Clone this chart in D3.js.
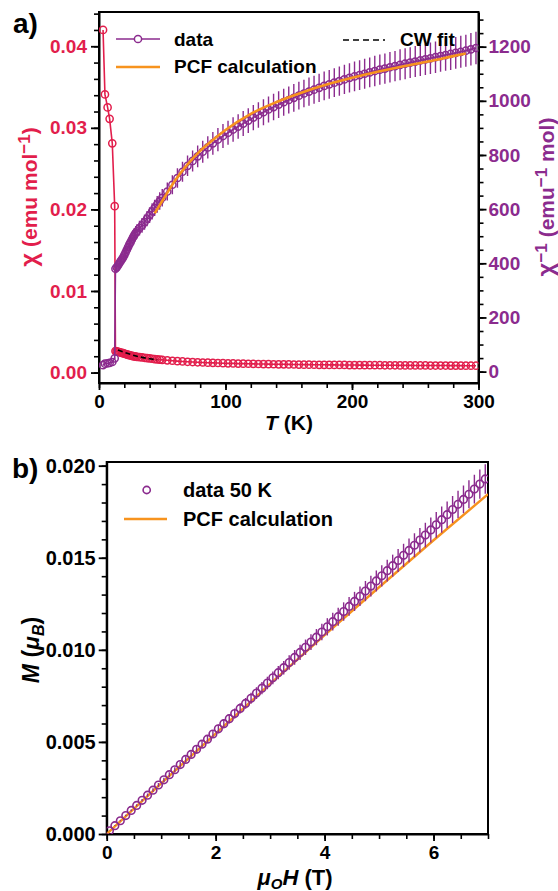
<!DOCTYPE html>
<html><head><meta charset="utf-8">
<script src="https://cdn.jsdelivr.net/npm/d3@7/dist/d3.min.js"></script>
<style>
body{margin:0;background:#fff}
svg{display:block;font-family:"Liberation Sans",Arial,sans-serif;font-weight:bold}
</style>
</head><body>
<svg id="c" width="558" height="891"></svg>
<script>
// ---------- Panel a) data ----------
const T_K = [3.2,4.7,6.8,8.4,10.5,12.4,13,14,15,16,17,18,19,20,21,22,23,24,25,26,27,28,29,30,32,34,36,38,40,42,44,46,48,50,54,58,62,66,70,74,78,82,86,90,94,98,102,106,110,114,118,122,126,130,134,138,142,146,150,154,158,162,166,170,174,178,182,186,190,194,198,202,206,210,214,218,222,226,230,234,238,242,246,250,254,258,262,266,270,274,278,282,286,290,294,298];
const chi = [0.0420,0.0341,0.0325,0.0311,0.0281,0.0204,0.00263,0.00260,0.00255,0.00250,0.00246,0.00242,0.00238,0.00233,0.00227,0.00222,0.00217,0.00213,0.00209,0.00205,0.00201,0.00198,0.00195,0.00193,0.00189,0.00185,0.00181,0.00177,0.00173,0.00169,0.00165,0.00162,0.00159,0.00156,0.00150,0.00145,0.00140,0.00136,0.00132,0.00129,0.00126,0.00123,0.00121,0.00119,0.00117,0.00115,0.00113,0.00112,0.00110,0.00109,0.00108,0.00107,0.00105,0.00104,0.00103,0.00102,0.00101,0.00101,0.00100,0.00099,0.00098,0.00097,0.00097,0.00096,0.00095,0.00095,0.00094,0.00094,0.00093,0.00093,0.00092,0.00092,0.00091,0.00091,0.00090,0.00090,0.00090,0.00089,0.00089,0.00089,0.00088,0.00088,0.00088,0.00087,0.00087,0.00087,0.00086,0.00086,0.00086,0.00086,0.00085,0.00085,0.00085,0.00084,0.00084,0.00084];
const invChi = [23.8,29.3,30.8,32.2,35.6,49.0,380,385,392,400,407,414,421,430,440,450,460,470,478,488,497,505,512,518,530,540,552,565,578,592,605,618,630,642,665,690,715,738,760,778,795,812,828,843,857,870,882,894,905,916,927,938,948,958,968,977,986,995,1003,1011,1019,1027,1034,1041,1048,1055,1061,1067,1073,1079,1085,1090,1095,1100,1105,1110,1115,1119,1124,1128,1133,1137,1141,1145,1149,1153,1157,1161,1165,1169,1173,1177,1181,1185,1190,1195];
const invChiErr = [1.2,1.5,1.5,1.6,1.8,2.5,19,19,20,20,20,21,21,22,22,23,23,24,24,24,25,25,26,26,27,27,28,28,29,30,30,31,32,32,33,35,36,37,38,39,40,41,41,42,43,44,44,45,45,46,46,47,47,48,48,49,49,50,50,51,51,51,52,52,52,53,53,53,54,54,54,55,55,55,55,56,56,56,56,56,57,57,57,57,57,58,58,58,58,58,59,59,59,59,60,60];
const pcfT = [44,50,60,70,80,90,100,120,140,160,180,200,220,240,260,280,290];
const pcfInv = [585,630,705,765,815,855,892,952,995,1030,1060,1085,1107,1127,1145,1165,1175];
const cwT = [15,20,25,30,35,40,46];
const cwChi = [0.00277,0.00248,0.00222,0.00200,0.00183,0.00169,0.00157];
const aXTicks = [0,100,200,300];
const aYLTicks = [0,0.01,0.02,0.03,0.04];
const aYRTicks = [0,200,400,600,800,1000,1200];

// ---------- Panel b) data ----------
const fieldT = [0.05,0.15,0.25,0.35,0.45,0.55,0.65,0.75,0.85,0.95,1.05,1.15,1.25,1.35,1.45,1.55,1.65,1.75,1.85,1.95,2.05,2.15,2.25,2.35,2.45,2.55,2.65,2.75,2.85,2.95,3.05,3.15,3.25,3.35,3.45,3.55,3.65,3.75,3.85,3.95,4.05,4.15,4.25,4.35,4.45,4.55,4.65,4.75,4.85,4.95,5.05,5.15,5.25,5.35,5.45,5.55,5.65,5.75,5.85,5.95,6.05,6.15,6.25,6.35,6.45,6.55,6.65,6.75,6.85,6.95];
const magM = [0.00017,0.00045,0.00072,0.00100,0.00128,0.00155,0.00183,0.00211,0.00238,0.00266,0.00294,0.00322,0.00349,0.00377,0.00405,0.00432,0.00460,0.00488,0.00515,0.00543,0.00571,0.00599,0.00626,0.00654,0.00682,0.00709,0.00737,0.00765,0.00792,0.00820,0.00848,0.00876,0.00903,0.00931,0.00959,0.00986,0.01014,0.01042,0.01069,0.01097,0.01125,0.01153,0.01180,0.01208,0.01236,0.01263,0.01291,0.01319,0.01346,0.01374,0.01402,0.01430,0.01457,0.01485,0.01513,0.01540,0.01568,0.01596,0.01623,0.01651,0.01679,0.01707,0.01734,0.01762,0.01790,0.01817,0.01845,0.01873,0.01900,0.01928];
const magErr = [0.00001,0.00002,0.00003,0.00004,0.00005,0.00006,0.00007,0.00009,0.00010,0.00011,0.00012,0.00013,0.00014,0.00016,0.00017,0.00018,0.00019,0.00020,0.00021,0.00022,0.00024,0.00025,0.00026,0.00027,0.00028,0.00029,0.00030,0.00032,0.00033,0.00034,0.00035,0.00036,0.00037,0.00039,0.00040,0.00041,0.00042,0.00043,0.00044,0.00045,0.00047,0.00048,0.00049,0.00050,0.00051,0.00052,0.00053,0.00055,0.00056,0.00057,0.00058,0.00059,0.00060,0.00062,0.00063,0.00064,0.00065,0.00066,0.00067,0.00068,0.00070,0.00071,0.00072,0.00073,0.00074,0.00075,0.00076,0.00078,0.00079,0.00080];
const pcfH = [0,1,2,3,4,5,6,7];
const pcfM = [0,0.00275,0.00545,0.00815,0.01080,0.01340,0.01595,0.01845];
const bXTicks = [0,2,4,6];
const bYTicks = [0,0.005,0.010,0.015,0.020];

// ---------- styles ----------
const RED = "#e21e4c", PURPLE = "#8b2b8e", ORANGE = "#f7931e";
const svg = d3.select("#c");

function styleAxis(g, color, fs){
  g.attr("font-family", null).attr("font-size", null);
  g.select(".domain").attr("stroke", "#000").attr("stroke-width", 2);
  g.selectAll(".tick line").attr("stroke", "#000").attr("stroke-width", 1.8);
  g.selectAll(".tick text").attr("fill", color).style("font-size", fs + "px").style("font-weight", "bold");
}
function minor(g){ g.select(".domain").remove(); g.selectAll(".tick line").attr("stroke","#000").attr("stroke-width",1.6); }

// ================= Panel a =================
const ax = {l:99, r:478.5, t:12, b:383};
const x1 = d3.scaleLinear([0,300],[ax.l, ax.r]);
const yL = d3.scaleLinear([-0.00128,0.0442],[ax.b, ax.t]);
const yR = d3.scaleLinear([-42,1328],[ax.b, ax.t]);

svg.append("defs").append("clipPath").attr("id","clipA").append("rect")
  .attr("x",ax.l).attr("y",ax.t).attr("width",ax.r-ax.l).attr("height",ax.b-ax.t);
svg.select("defs").append("clipPath").attr("id","clipB").append("rect")
  .attr("x",106.7).attr("y",462).attr("width",488-106.7).attr("height",834-462);

svg.append("rect").attr("x",ax.l).attr("y",ax.t).attr("width",ax.r-ax.l).attr("height",ax.b-ax.t)
  .attr("fill","none").attr("stroke","#000").attr("stroke-width",2);

svg.append("g").attr("transform",`translate(0,${ax.b})`)
  .call(d3.axisBottom(x1).tickValues(d3.range(0,301,20)).tickSize(5).tickFormat("")).call(minor);
svg.append("g").attr("transform",`translate(${ax.l},0)`)
  .call(d3.axisLeft(yL).tickValues(d3.range(0,0.0441,0.002)).tickSize(5).tickFormat("")).call(minor);
svg.append("g").attr("transform",`translate(${ax.r},0)`)
  .call(d3.axisRight(yR).tickValues(d3.range(0,1301,50)).tickSize(5).tickFormat("")).call(minor);
svg.append("g").attr("transform",`translate(0,${ax.b})`)
  .call(d3.axisBottom(x1).tickValues(aXTicks).tickSize(7).tickSizeOuter(0).tickPadding(5).tickFormat(d3.format("d")))
  .call(g=>styleAxis(g,"#000",19));
svg.append("g").attr("transform",`translate(${ax.l},0)`)
  .call(d3.axisLeft(yL).tickValues(aYLTicks).tickSize(8).tickSizeOuter(0).tickPadding(4).tickFormat(d3.format(".2f")))
  .call(g=>styleAxis(g,RED,19));
svg.append("g").attr("transform",`translate(${ax.r},0)`)
  .call(d3.axisRight(yR).tickValues(aYRTicks).tickSize(8).tickSizeOuter(0).tickPadding(2).tickFormat(d3.format("d")))
  .call(g=>styleAxis(g,PURPLE,19));

const pa = svg.append("g").attr("clip-path","url(#clipA)");
const idx = d3.range(T_K.length);
pa.append("path").attr("d", d3.line().x(i=>x1(T_K[i])).y(i=>yL(chi[i]))(idx))
  .attr("fill","none").attr("stroke",RED).attr("stroke-width",1.6);
pa.selectAll("circle.r").data(idx).join("circle").attr("class","r")
  .attr("cx",i=>x1(T_K[i])).attr("cy",i=>yL(chi[i])).attr("r",3.6)
  .attr("fill","none").attr("stroke",RED).attr("stroke-width",1.5);
pa.selectAll("line.e").data(idx).join("line").attr("class","e")
  .attr("x1",i=>x1(T_K[i])).attr("x2",i=>x1(T_K[i]))
  .attr("y1",i=>yR(invChi[i]-invChiErr[i])).attr("y2",i=>yR(invChi[i]+invChiErr[i]))
  .attr("stroke",PURPLE).attr("stroke-width",1.4);
pa.append("path").attr("d", d3.line().x(i=>x1(T_K[i])).y(i=>yR(invChi[i]))(idx))
  .attr("fill","none").attr("stroke",PURPLE).attr("stroke-width",1.6);
pa.selectAll("circle.p").data(idx).join("circle").attr("class","p")
  .attr("cx",i=>x1(T_K[i])).attr("cy",i=>yR(invChi[i])).attr("r",3.6)
  .attr("fill","none").attr("stroke",PURPLE).attr("stroke-width",1.5);
pa.append("path").attr("d", d3.line().curve(d3.curveMonotoneX).x((d,i)=>x1(pcfT[i])).y((d,i)=>yR(pcfInv[i]))(pcfT))
  .attr("fill","none").attr("stroke",ORANGE).attr("stroke-width",2.6);
pa.append("path").attr("d", d3.line().curve(d3.curveMonotoneX).x((d,i)=>x1(cwT[i])).y((d,i)=>yL(cwChi[i]))(cwT))
  .attr("fill","none").attr("stroke","#000").attr("stroke-width",1.6).attr("stroke-dasharray","5,3");

const lg = svg.append("g").style("font-size","19px");
lg.append("line").attr("x1",116).attr("x2",160).attr("y1",39).attr("y2",39).attr("stroke",PURPLE).attr("stroke-width",1.6);
lg.append("circle").attr("cx",138).attr("cy",39).attr("r",3.6).attr("fill","#fff").attr("stroke",PURPLE).attr("stroke-width",1.5);
lg.append("text").attr("x",174).attr("y",46).text("data");
lg.append("line").attr("x1",116).attr("x2",160).attr("y1",67).attr("y2",67).attr("stroke",ORANGE).attr("stroke-width",2.6);
lg.append("text").attr("x",174).attr("y",73).text("PCF calculation");
lg.append("line").attr("x1",343).attr("x2",385).attr("y1",40).attr("y2",40).attr("stroke","#000").attr("stroke-width",1.6).attr("stroke-dasharray","6,4");
lg.append("text").attr("x",400).attr("y",46).text("CW fit");

svg.append("text").attr("x",13).attr("y",33).style("font-size","28px").text("a)");
const tx = svg.append("text").attr("x",289).attr("y",430).attr("text-anchor","middle").style("font-size","21px");
tx.append("tspan").style("font-style","italic").text("T");
tx.append("tspan").text(" (K)");
const tl = svg.append("text").attr("transform","translate(37,197) rotate(-90)").attr("text-anchor","middle")
  .attr("fill",RED).style("font-size","21px");
tl.append("tspan").style("font-size","24px").text("χ");
tl.append("tspan").text(" (emu mol");
tl.append("tspan").attr("dy",-7).style("font-size","17px").text("−1");
tl.append("tspan").attr("dy",7).text(")");
const tr = svg.append("text").attr("transform","translate(554,197) rotate(-90)").attr("text-anchor","middle")
  .attr("fill",PURPLE).style("font-size","21px");
tr.append("tspan").style("font-size","24px").text("χ");
tr.append("tspan").attr("dy",-7).style("font-size","17px").text("−1");
tr.append("tspan").attr("dy",7).text(" (emu");
tr.append("tspan").attr("dy",-7).style("font-size","17px").text("−1");
tr.append("tspan").attr("dy",7).text(" mol)");

// ================= Panel b =================
const bx = {l:106.7, r:488, t:462, b:834};
const x2 = d3.scaleLinear([0,7],[bx.l,bx.r]);
const y2 = d3.scaleLinear([0,0.0202],[bx.b,bx.t]);
svg.append("rect").attr("x",bx.l).attr("y",bx.t).attr("width",bx.r-bx.l).attr("height",bx.b-bx.t)
  .attr("fill","none").attr("stroke","#000").attr("stroke-width",2);
svg.append("g").attr("transform",`translate(0,${bx.b})`)
  .call(d3.axisBottom(x2).tickValues(d3.range(0,7.01,0.5)).tickSize(5).tickFormat("")).call(minor);
svg.append("g").attr("transform",`translate(${bx.l},0)`)
  .call(d3.axisLeft(y2).tickValues(d3.range(0,0.02005,0.001)).tickSize(5).tickFormat("")).call(minor);
svg.append("g").attr("transform",`translate(0,${bx.b})`)
  .call(d3.axisBottom(x2).tickValues(bXTicks).tickSize(7).tickSizeOuter(0).tickPadding(5).tickFormat(d3.format("d")))
  .call(g=>styleAxis(g,"#000",19));
svg.append("g").attr("transform",`translate(${bx.l},0)`)
  .call(d3.axisLeft(y2).tickValues(bYTicks).tickSize(8).tickSizeOuter(0).tickPadding(3).tickFormat(d3.format(".3f")))
  .call(g=>styleAxis(g,"#000",20));

const pb = svg.append("g").attr("clip-path","url(#clipB)");
const bi = d3.range(fieldT.length);
pb.append("path").attr("d", d3.line().x((d,i)=>x2(pcfH[i])).y((d,i)=>y2(pcfM[i]))(pcfH))
  .attr("fill","none").attr("stroke",ORANGE).attr("stroke-width",2.4);
pb.selectAll("line.e").data(bi).join("line").attr("class","e")
  .attr("x1",i=>x2(fieldT[i])).attr("x2",i=>x2(fieldT[i]))
  .attr("y1",i=>y2(magM[i]-magErr[i])).attr("y2",i=>y2(magM[i]+magErr[i]))
  .attr("stroke",PURPLE).attr("stroke-width",1.4);
pb.selectAll("circle").data(bi).join("circle")
  .attr("cx",i=>x2(fieldT[i])).attr("cy",i=>y2(magM[i])).attr("r",3.8)
  .attr("fill","none").attr("stroke",PURPLE).attr("stroke-width",1.6);

const lb = svg.append("g").style("font-size","20px");
lb.append("circle").attr("cx",146.7).attr("cy",490).attr("r",3.6).attr("fill","none").attr("stroke",PURPLE).attr("stroke-width",1.6);
lb.append("text").attr("x",183).attr("y",497).text("data 50 K");
lb.append("line").attr("x1",124).attr("x2",167).attr("y1",519).attr("y2",519).attr("stroke",ORANGE).attr("stroke-width",2.4);
lb.append("text").attr("x",183).attr("y",526).text("PCF calculation");

svg.append("text").attr("x",12).attr("y",478).style("font-size","28px").text("b)");
const bxT = svg.append("text").attr("x",295).attr("y",885).attr("text-anchor","middle").style("font-size","22px");
bxT.append("tspan").style("font-style","italic").text("μ");
bxT.append("tspan").attr("dy",4).style("font-size","15px").style("font-style","italic").text("O");
bxT.append("tspan").attr("dy",-4).style("font-style","italic").text("H");
bxT.append("tspan").text(" (T)");
const byT = svg.append("text").attr("transform","translate(39,650) rotate(-90)").attr("text-anchor","middle").style("font-size","23px");
byT.append("tspan").style("font-style","italic").text("M");
byT.append("tspan").text(" (");
byT.append("tspan").style("font-style","italic").text("μ");
byT.append("tspan").attr("dy",5).style("font-size","16px").style("font-style","italic").text("B");
byT.append("tspan").attr("dy",-5).text(")");
</script>
</body></html>
